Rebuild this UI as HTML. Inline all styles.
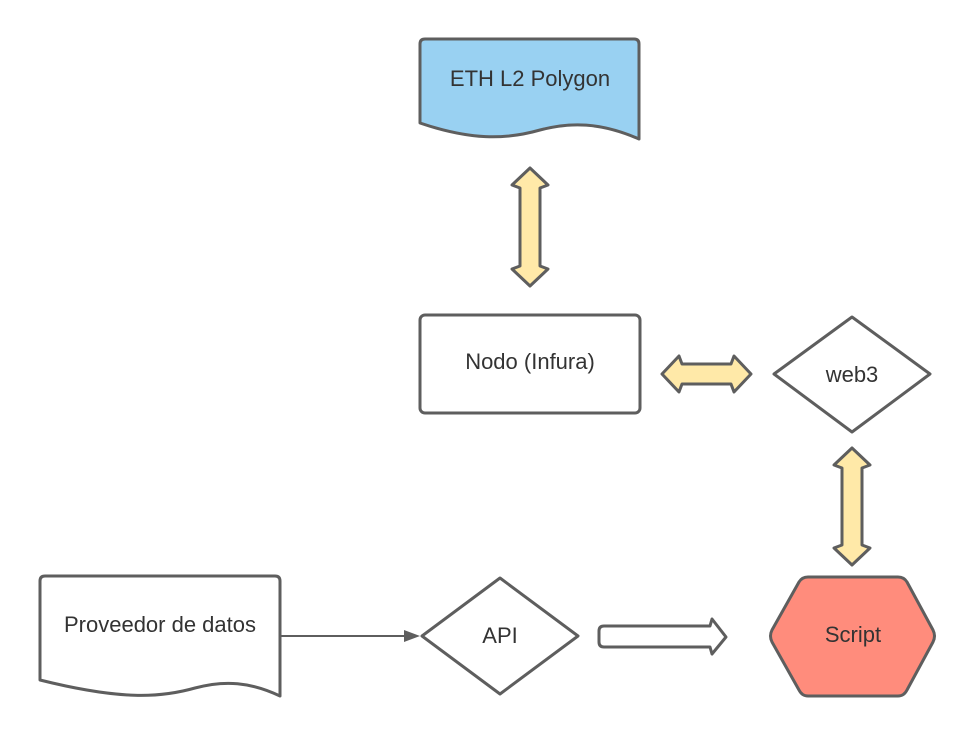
<!DOCTYPE html>
<html><head><meta charset="utf-8"><style>
html,body{margin:0;padding:0;background:#fff;}
svg{display:block;}
text{font-family:"Liberation Sans",sans-serif;font-size:22px;fill:#333;text-anchor:middle;dominant-baseline:middle;}
</style></head><body>
<svg width="978" height="738" viewBox="0 0 978 738" xmlns="http://www.w3.org/2000/svg">
<g stroke="#5e5e5e" stroke-width="3" stroke-linejoin="round">
<path d="M420,44 Q420,39 425,39 H634 Q639,39 639,44 V139 C600,122 570,122 540,130 C505,140 470,140 420,123 Z" fill="#99d1f2"/>
<path d="M530,168 L548,185 L540,188 V266 L548,269 L530,286 L512,269 L520,266 V188 L512,185 Z" fill="#ffe9a8"/>
<rect x="420" y="315" width="220" height="98" rx="5" fill="#fff"/>
<path d="M662,374 L679,356 L682,364 H731 L734,356 L751,374 L734,392 L731,384 H682 L679,392 Z" fill="#ffe9a8"/>
<path d="M852,317 L930,374 L852,432 L774,374 Z" fill="#fff"/>
<path d="M852,448 L870,465 L862,468 V545 L870,548 L852,565 L834,548 L842,545 V468 L834,465 Z" fill="#ffe9a8"/>
<path d="M40,581 Q40,576 45,576 H275 Q280,576 280,581 V696 C250,682 225,680 195,688 C160,698 120,700 40,680 Z" fill="#fff"/>
<path d="M500,578 L578,636 L500,694 L422,636 Z" fill="#fff"/>
<path d="M604,626 H710 L712,619 L726,637 L712,654 L710,647 H604 Q599,647 599,642 V631 Q599,626 604,626 Z" fill="#fff"/>
<path d="M808,577 H898 Q904,577 907,582 L933,630 Q936,636 933,642 L907,690 Q904,696 898,696 H808 Q802,696 799,690 L772,642 Q769,636 772,630 L799,582 Q802,577 808,577 Z" fill="#ff8c7c"/>
</g>
<line x1="281" y1="636" x2="406" y2="636" stroke="#5e5e5e" stroke-width="2"/>
<path d="M420,636 L404,630 L404,642 Z" fill="#5e5e5e"/>
<text x="530" y="80">ETH L2 Polygon</text>
<text x="530" y="363">Nodo (Infura)</text>
<text x="852" y="376">web3</text>
<text x="160" y="626">Proveedor de datos</text>
<text x="500" y="637">API</text>
<text x="853" y="636">Script</text>
</svg>
</body></html>
